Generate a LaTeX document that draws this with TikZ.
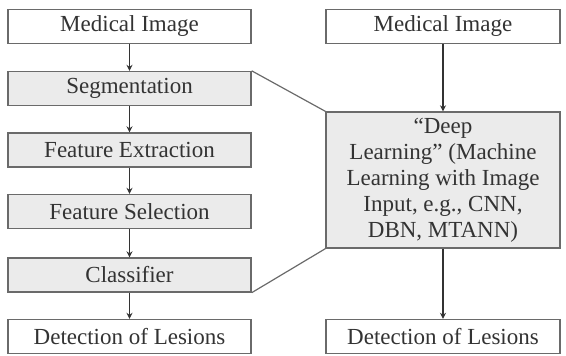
\documentclass[tikz,border=0pt]{standalone}
\usepackage{fontspec}
\setmainfont{Liberation Serif}
\usepackage{tikz}
\usepackage{xcolor}
\usetikzlibrary{positioning, calc, arrows.meta}
\definecolor{boxline}{HTML}{6A6A6A}
\definecolor{boxfill}{HTML}{EBEBEB}
\definecolor{boxtext}{HTML}{333333}

\begin{document}
\begin{tikzpicture}[
    x=1pt,
    y=-1pt,
    >={Stealth[length=6pt, width=6pt]},
    box/.style={draw=boxline, line width=1.4pt, fill=white, inner sep=0pt,
        text=boxtext, font=\fontsize{23}{26}\selectfont},
    lbox/.style={box, minimum width=243pt, minimum height=34pt},
    rbox/.style={box, minimum width=234pt, minimum height=34pt},
    grey/.style={fill=boxfill},
    flow/.style={->, draw=boxtext, line width=1.2pt},
    link/.style={draw=boxline, line width=1.2pt}
]
\useasboundingbox (0,0) rectangle (566,356);

% --- Conventional pipeline (left) ---
\node[lbox] (med1) at (129.5,26.5) {Medical Image};
\node[lbox, grey] (seg) at (129.5,88.5) {Segmentation};
\node[lbox, grey] (fext) at (129.5,150) {Feature Extraction};
\node[lbox, grey] (fsel) at (129.5,211.5) {Feature Selection};
\node[lbox, grey] (cls) at (129.5,275) {Classifier};
\node[lbox] (det1) at (129.5,336.5) {Detection of Lesions};

% --- Deep learning pipeline (right) ---
\node[rbox] (med2) at (443,26.5) {Medical Image};
\node[rbox, grey, minimum height=136pt, align=center] (dl) at (443,180)
    {``Deep\\Learning'' (Machine\\Learning with Image\\Input, e.g., CNN,\\DBN, MTANN)};
\node[rbox] (det2) at (443,336.5) {Detection of Lesions};

% --- Arrows ---
\draw[flow] (med1) -- (seg);
\draw[flow] (seg) -- (fext);
\draw[flow] (fext) -- (fsel);
\draw[flow] (fsel) -- (cls);
\draw[flow] (cls) -- (det1);
\draw[flow] (med2) -- (dl);
\draw[flow] (dl) -- (det2);

% Bracket lines
\draw[link] (seg.north east) -- (dl.north west);
\draw[link] (cls.south east) -- (dl.south west);

\end{tikzpicture}
\end{document}
